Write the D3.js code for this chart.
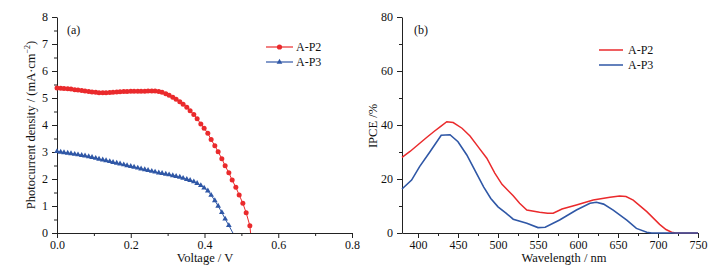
<!DOCTYPE html>
<html>
<head>
<meta charset="utf-8">
<script src="https://cdn.jsdelivr.net/npm/d3@7"></script>
<style>
  body { margin: 0; background: #fff; }
  svg text { font-family: "Liberation Serif", "Times New Roman", serif; fill: #111; }
</style>
</head>
<body>
<div id="chart"></div>
<script>
// J-V curves, panel (a)
let voltage = [0, .01, .019, .029, .038, .048, .057, .067, .076, .086, .095, .105, .114, .124, .133, .143,
  .152, .162, .171, .181, .19, .2, .209, .219, .228, .238, .247, .257, .266, .276, .285, .295, .304, .314,
  .323, .333, .342, .352, .361, .371, .38, .39, .399, .409, .418, .428, .437, .447, .456, .466, .475, .485,
  .494, .504, .513, .523]

let jP2 = [5.37, 5.36, 5.35, 5.34, 5.33, 5.31, 5.30, 5.28, 5.26, 5.24, 5.22, 5.21, 5.19, 5.19, 5.19, 5.20,
  5.21, 5.22, 5.23, 5.24, 5.24, 5.25, 5.25, 5.25, 5.25, 5.25, 5.26, 5.26, 5.26, 5.24, 5.21, 5.16, 5.10, 5.03,
  4.95, 4.86, 4.77, 4.66, 4.53, 4.39, 4.23, 4.04, 3.88, 3.69, 3.46, 3.23, 3.01, 2.75, 2.49, 2.23, 1.96, 1.69,
  1.41, 1.10, 0.75, 0.27]

let jP3 = [3.02, 3.00, 2.98, 2.96, 2.94, 2.92, 2.90, 2.88, 2.86, 2.83, 2.80, 2.77, 2.74, 2.71, 2.68, 2.65,
  2.62, 2.59, 2.56, 2.53, 2.50, 2.47, 2.44, 2.41, 2.38, 2.35, 2.32, 2.29, 2.26, 2.23, 2.21, 2.18, 2.16, 2.13,
  2.10, 2.07, 2.03, 1.99, 1.95, 1.90, 1.84, 1.76, 1.67, 1.56, 1.40, 1.20, 1.00, 0.76, 0.52, 0.28]

// IPCE spectra, panel (b)
let waveP2 = [380, 390, 400, 410, 420, 428, 436, 444, 455, 465, 475, 486, 496, 505, 515, 519, 527, 536, 552,
  562, 569, 580, 598, 619, 640, 652, 660, 669, 686, 702, 710, 717, 722, 750]
let ipceP2 = [28.0, 30.2, 32.7, 35.2, 37.6, 39.4, 41.2, 40.9, 38.8, 35.9, 32.0, 27.7, 22.2, 18.0, 15.0, 13.8,
  11.0, 8.5, 7.7, 7.3, 7.3, 8.9, 10.4, 12.2, 13.2, 13.7, 13.5, 12.2, 7.9, 3.2, 1.3, 0.3, 0, 0]

let waveP3 = [380, 392, 402, 415, 429, 440, 450, 461, 471, 482, 491, 500, 510, 519, 536, 550, 559, 577, 598, 615,
  623, 632, 644, 661, 673, 686, 692, 750]
let ipceP3 = [16.3, 19.6, 24.6, 30.1, 36.2, 36.4, 33.8, 28.9, 23.3, 17.1, 12.8, 9.7, 7.4, 5.1, 3.6, 2.0, 2.1, 4.8,
  8.5, 11.0, 11.4, 10.7, 8.5, 4.8, 1.7, 0.3, 0, 0]

let seriesNames = ['A-P2', 'A-P3']
let red = '#ea2a2c', blue = '#2f57a6'

let width = 716, height = 269

let svg = d3.select('#chart')
.append('svg')
.attr('width', width)
.attr('height', height)

let xa = d3.scaleLinear().domain([0, 0.8]).range([57, 352])
let ya = d3.scaleLinear().domain([0, 8]).range([233, 17])
let xb = d3.scaleLinear().domain([380, 750]).range([402, 698])
let yb = d3.scaleLinear().domain([0, 80]).range([233, 17])

function styleAxis(g) {
    g.selectAll('path, line').attr('stroke', '#222')
    g.selectAll('text').attr('font-size', 12).attr('fill', '#111')
}

function drawAxes(x, y, xMajor, xMinor, yMajor, yMinor, xFmt, bottom, left) {
    svg.append('g')
    .attr('transform', `translate(0,${bottom})`)
    .call(d3.axisBottom(x).tickValues(xMinor).tickSize(3).tickFormat(''))
    .call(g => g.select('.domain').remove())
    .call(styleAxis)

    svg.append('g')
    .attr('transform', `translate(0,${bottom})`)
    .call(d3.axisBottom(x).tickValues(xMajor).tickSize(5).tickSizeOuter(0).tickPadding(2).tickFormat(xFmt))
    .call(styleAxis)

    svg.append('g')
    .attr('transform', `translate(${left},0)`)
    .call(d3.axisLeft(y).tickValues(yMinor).tickSize(3).tickFormat(''))
    .call(g => g.select('.domain').remove())
    .call(styleAxis)

    svg.append('g')
    .attr('transform', `translate(${left},0)`)
    .call(d3.axisLeft(y).tickValues(yMajor).tickSize(5).tickSizeOuter(0).tickPadding(4))
    .call(styleAxis)
}

// ---- panel (a)
drawAxes(xa, ya, [0, 0.2, 0.4, 0.6, 0.8], [0.1, 0.3, 0.5, 0.7],
    [0, 1, 2, 3, 4, 5, 6, 7, 8], [0.5, 1.5, 2.5, 3.5, 4.5, 5.5, 6.5, 7.5],
    d3.format('.1f'), 233, 57)

let jvLine = d3.line().x(d => xa(d[0])).y(d => ya(d[1]))

let p2 = voltage.map((v, i) => [v, jP2[i]])
let p3 = jP3.map((j, i) => [voltage[i], j])

svg.append('path').datum(p2.concat([[0.525, 0]]))
.attr('d', jvLine).attr('fill', 'none').attr('stroke', red).attr('stroke-width', 1)
svg.append('path').datum(p3.concat([[0.477, 0]]))
.attr('d', jvLine).attr('fill', 'none').attr('stroke', blue).attr('stroke-width', 1)

svg.append('g').selectAll('circle')
.data(p2)
.join('circle')
.attr('cx', d => xa(d[0]))
.attr('cy', d => ya(d[1]))
.attr('r', 2.5)
.attr('fill', red)

let tri = d3.symbol().type(d3.symbolTriangle).size(14)

svg.append('g').selectAll('path')
.data(p3)
.join('path')
.attr('d', tri)
.attr('transform', d => `translate(${xa(d[0])},${ya(d[1])})`)
.attr('fill', blue)

svg.append('text').attr('x', 67).attr('y', 34).attr('font-size', 12).text('(a)')

// legend (a)
seriesNames.forEach((name, i) => {
    let yy = 47 + i * 15
    let c = i == 0 ? red : blue
    svg.append('line').attr('x1', 266).attr('x2', 293).attr('y1', yy).attr('y2', yy)
    .attr('stroke', c).attr('stroke-width', 1.2)
    if (i == 0) {
        svg.append('circle').attr('cx', 279.5).attr('cy', yy).attr('r', 2.6).attr('fill', c)
    } else {
        svg.append('path').attr('d', tri).attr('transform', `translate(279.5,${yy})`).attr('fill', c)
    }
    svg.append('text').attr('x', 296).attr('y', yy + 4).attr('font-size', 12).text(name)
})

svg.append('text')
.attr('x', 205).attr('y', 262)
.attr('text-anchor', 'middle').attr('font-size', 12.5)
.text('Voltage / V')

let yTitleA = svg.append('text')
.attr('transform', 'translate(35,125) rotate(-90)')
.attr('text-anchor', 'middle').attr('font-size', 12.5)
yTitleA.append('tspan').text('Photocurrent density / (mA·cm')
yTitleA.append('tspan').attr('dy', -5).attr('font-size', 8).text('−2')
yTitleA.append('tspan').attr('dy', 5).text(')')

// ---- panel (b)
drawAxes(xb, yb, [400, 450, 500, 550, 600, 650, 700, 750], [425, 475, 525, 575, 625, 675, 725],
    [0, 20, 40, 60, 80], [10, 30, 50, 70],
    d3.format('d'), 233, 402)

let ipceLine = d3.line().x(d => xb(d[0])).y(d => yb(d[1]))

svg.append('path').datum(waveP2.map((w, i) => [w, ipceP2[i]]))
.attr('d', ipceLine).attr('fill', 'none').attr('stroke', red).attr('stroke-width', 1.5)
svg.append('path').datum(waveP3.map((w, i) => [w, ipceP3[i]]))
.attr('d', ipceLine).attr('fill', 'none').attr('stroke', blue).attr('stroke-width', 1.6)

svg.append('text').attr('x', 414).attr('y', 34).attr('font-size', 12).text('(b)')

seriesNames.forEach((name, i) => {
    let yy = 50 + i * 15
    svg.append('line').attr('x1', 599).attr('x2', 623).attr('y1', yy).attr('y2', yy)
    .attr('stroke', i == 0 ? red : blue).attr('stroke-width', 1.5)
    svg.append('text').attr('x', 628).attr('y', yy + 4).attr('font-size', 12).text(name)
})

svg.append('text')
.attr('x', 564).attr('y', 262)
.attr('text-anchor', 'middle').attr('font-size', 12.5)
.text('Wavelength / nm')

svg.append('text')
.attr('transform', 'translate(377,126) rotate(-90)')
.attr('text-anchor', 'middle').attr('font-size', 12.5)
.text('IPCE /%')
</script>
</body>
</html>
